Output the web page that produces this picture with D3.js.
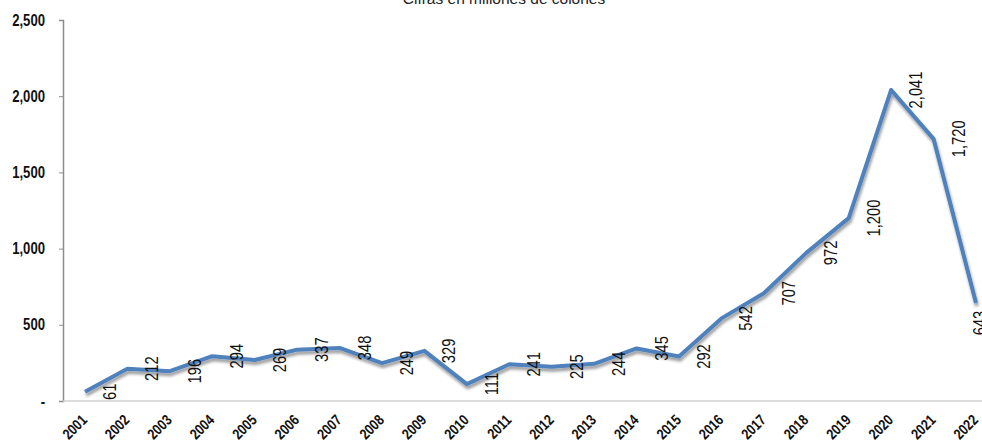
<!DOCTYPE html>
<html>
<head>
<meta charset="utf-8">
<script src="https://cdn.jsdelivr.net/npm/d3@7"></script>
<style>
  body { margin: 0; background: #fff; }
  svg text { font-family: "Liberation Sans", Arial, sans-serif; }
</style>
</head>
<body>
<svg width="982" height="445"></svg>
<script>
// **** data ****
var years = ['2001','2002','2003','2004','2005','2006','2007','2008','2009','2010','2011',
  '2012','2013','2014','2015','2016','2017','2018','2019','2020','2021','2022'];
var values = [61, 212, 196, 294, 269, 337, 348, 249, 329, 111, 241,
  225, 244, 345, 292, 542, 707, 972, 1200, 2041, 1720, 643];
var yTicks = [0, 500, 1000, 1500, 2000, 2500];

var svg = d3.select('svg');
var narrow = 0.82;   // text is drawn condensed, like Arial Narrow

// **** scales ****
var xScale = d3.scalePoint()
    .domain(years).range([85, 976]);

var yScale = d3.scaleLinear()
    .domain([0, 2500]).range([401, 20]);

var fmt = d3.format(',');

// shadow for the line
var defs = svg.append('defs');
var f = defs.append('filter').attr('id', 'shadow')
    .attr('x', '-5%').attr('y', '-5%').attr('width', '110%').attr('height', '120%');
f.append('feGaussianBlur').attr('in', 'SourceAlpha').attr('stdDeviation', 1.8);
f.append('feOffset').attr('dx', 1).attr('dy', 3).attr('result', 'b');
f.append('feComponentTransfer').append('feFuncA').attr('type', 'linear').attr('slope', 0.4);
var m = f.append('feMerge');
m.append('feMergeNode');
m.append('feMergeNode').attr('in', 'SourceGraphic');

// **** title ****
svg.append('text')
    .attr('x', 504).attr('y', 4)
    .attr('text-anchor', 'middle')
    .style('font-size', '15.5px')
    .style('fill', '#222')
    .text('Cifras en millones de colones');

// **** axes ****
var yAxis = svg.append('g')
    .attr('transform', 'translate(63,0)')
    .call(d3.axisLeft(yScale).tickValues(yTicks).tickSize(4).tickPadding(14)
      .tickFormat(function(d) { return d === 0 ? '-' : fmt(d); }));
yAxis.select('.domain').attr('stroke', '#8c8c8c').attr('stroke-width', 1.5);
yAxis.selectAll('.tick line').attr('stroke', '#8c8c8c');
yAxis.selectAll('.tick text')
    .attr('x', 0)
    .attr('transform', 'translate(-18,0) scale(' + narrow + ',1)')
    .style('font-size', '16px').style('font-weight', 'bold').style('fill', '#111');

svg.append('line')
    .attr('x1', 63).attr('x2', 982)
    .attr('y1', yScale(0)).attr('y2', yScale(0))
    .attr('stroke', '#d0d0d0').attr('stroke-width', 1.5);

svg.append('g').selectAll('text').data(years).enter().append('text')
    .attr('transform', function(d) {
      return 'translate(' + (xScale(d) + 3) + ',421) rotate(-45) scale(' + narrow + ',1)';
    })
    .attr('text-anchor', 'end')
    .style('font-size', '15px').style('font-weight', 'bold').style('fill', '#111')
    .text(function(d) { return d; });

// **** line ****
var line = d3.line()
    .x(function(d, i) { return xScale(years[i]); })
    .y(function(d) { return yScale(d); });

svg.append('path')
    .datum(values)
    .attr('d', line)
    .attr('fill', 'none')
    .attr('stroke', '#4f81bd')
    .attr('stroke-width', 4)
    .attr('stroke-linejoin', 'round')
    .attr('filter', 'url(#shadow)');

// **** value labels ****
svg.append('g').selectAll('text').data(values).enter().append('text')
    .attr('transform', function(d, i) {
      var x = xScale(years[i]) + 31;
      var y = yScale(d);
      if (x > 986) { x = 986; y += 20; }   // last label pushed back at the edge
      return 'translate(' + x + ',' + y + ') rotate(-90) scale(' + narrow + ',1)';
    })
    .attr('text-anchor', 'middle')
    .style('font-size', '18px').style('fill', '#111')
    .text(function(d) { return fmt(d); });
</script>
</body>
</html>
